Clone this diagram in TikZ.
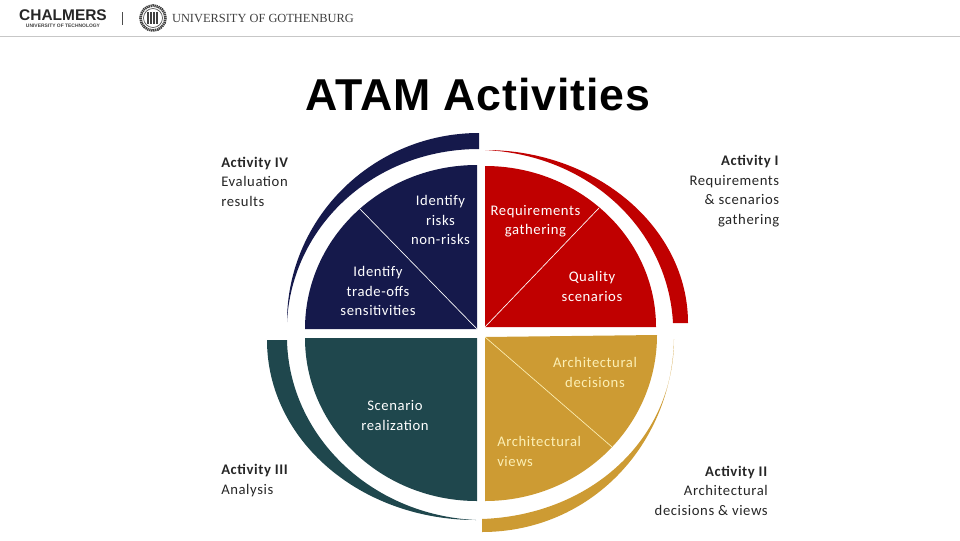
\documentclass[tikz,border=0pt]{standalone}
\usepackage{fontspec}
\setmainfont{Carlito}
\newfontfamily\bodyfont{Carlito}[LetterSpace=4]
\newfontfamily\titlefont{Liberation Sans}[LetterSpace=2]
\newfontfamily\logofont{Liberation Sans}
\newfontfamily\gothfont{Liberation Serif}
\definecolor{navyq}{HTML}{15194B}
\definecolor{redq}{HTML}{C00000}
\definecolor{tealq}{HTML}{1F474D}
\definecolor{goldq}{HTML}{CD9B33}
\definecolor{goldtext}{HTML}{FCEFB4}
\tikzset{
    inlabel/.style={font=\bodyfont\fontsize{11}{14.6}\selectfont, align=center, text=white},
    outlabel/.style={font=\bodyfont\fontsize{11}{14.6}\selectfont, text=black!85},
    divider/.style={line width=0.5pt}
}
\begin{document}
\begin{tikzpicture}[x=0.75pt,y=-0.75pt]
    \useasboundingbox (0,0) rectangle (960,540);
    % Header with logos
    \draw[black!22, line width=0.8pt] (0,36.5) -- (960,36.5);
    \node[font=\logofont\bfseries\fontsize{11.6}{12}\selectfont, text=black!85, inner sep=0] (chalmers) at (63,15.5) {CHALMERS};
    \node[font=\logofont\bfseries\fontsize{3.7}{4}\selectfont, text=black!75, inner sep=0] (chalmerssub) at (63,26) {UNIVERSITY OF TECHNOLOGY};
    \draw[black!70, line width=0.7pt] (122.5,12) -- (122.5,25);
    \node[font=\gothfont\fontsize{9.3}{10}\selectfont, text=black!75, inner sep=0] (gothenburg) at (263,18) {UNIVERSITY OF GOTHENBURG};
    % Seal
    \draw[black!75, line width=2pt, dash pattern=on 1pt off 0.5pt] (153,18) circle (12.5);
    \draw[black!70, line width=0.5pt] (153,18) circle (9.5);
    \foreach \x in {148,151,154,157}
        \draw[black!75, line width=1pt] (\x,12) -- (\x,24);
    % Title
    \node[font=\titlefont\bfseries\fontsize{33.5}{36}\selectfont, text=black, inner sep=0] (title) at (478,95) {ATAM Activities};
    % Four quadrants
    \fill[navyq] (477,329) -- (305,329) .. controls (305,238) and (382,165) .. (477,165) -- cycle;
    \fill[redq] (485,327) -- (656,327) .. controls (656,238) and (579,166) .. (485,166) -- cycle;
    \fill[tealq] (477,338) -- (305,338) .. controls (305,428) and (382,501) .. (477,501) -- cycle;
    \fill[goldq] (485,337) -- (657,335) .. controls (657,427) and (580,501) .. (485,501) -- cycle;
    % Outer bands
    \fill[navyq] (287,322) .. controls (287,218) and (373,133) .. (479,133) -- (479,149) .. controls (375,149) and (292,225) .. (287,322) -- cycle;
    \fill[redq] (485,150) .. controls (597,150) and (688,228) .. (688,323) -- (673,323) .. controls (668,230) and (590,155) .. (485,150) -- cycle;
    \fill[tealq] (267,340) -- (287,340) .. controls (289,435) and (370,515) .. (476,520) .. controls (360,520) and (267,440) .. (267,340) -- cycle;
    \fill[goldq] (674,339) .. controls (674,438) and (592,515) .. (482,519) -- (482,532) .. controls (590,532) and (672,445) .. (674,339) -- cycle;
    % Dividers inside the quadrants
    \draw[white, divider] (477,329) -- (360,209);
    \draw[white, divider] (485,327) -- (599,208);
    \draw[goldtext, divider] (485,337) -- (612,447);
    % Labels inside
    \node[inlabel] (risks) at (440.5,220) {Identify\\risks\\non-risks};
    \node[inlabel] (tradeoffs) at (378,291) {Identify\\trade-offs\\sensitivities};
    \node[inlabel] (reqgather) at (535.5,221) {Requirements\\gathering};
    \node[inlabel] (quality) at (592,286.5) {Quality\\scenarios};
    \node[inlabel, text=goldtext] (decisions) at (595,372.5) {Architectural\\decisions};
    \node[inlabel] (realization) at (395,415.5) {Scenario\\realization};
    \node[inlabel, text=goldtext, align=left, anchor=west, inner sep=0] (views) at (497,451.5) {Architectural\\views};
    % Labels outside
    \node[outlabel, align=left, anchor=west, inner sep=0] (activityiv) at (221,181.5) {\textbf{Activity IV}\\Evaluation\\results};
    \node[outlabel, align=right, anchor=east, inner sep=0] (activityi) at (779.5,191) {\textbf{Activity I}\\Requirements\\\& scenarios\\gathering};
    \node[outlabel, align=left, anchor=west, inner sep=0] (activityiii) at (221,480.5) {\textbf{Activity III}\\Analysis};
    \node[outlabel, align=right, anchor=east, inner sep=0] (activityii) at (768,490.5) {\textbf{Activity II}\\Architectural\\decisions \& views};
\end{tikzpicture}
\end{document}
